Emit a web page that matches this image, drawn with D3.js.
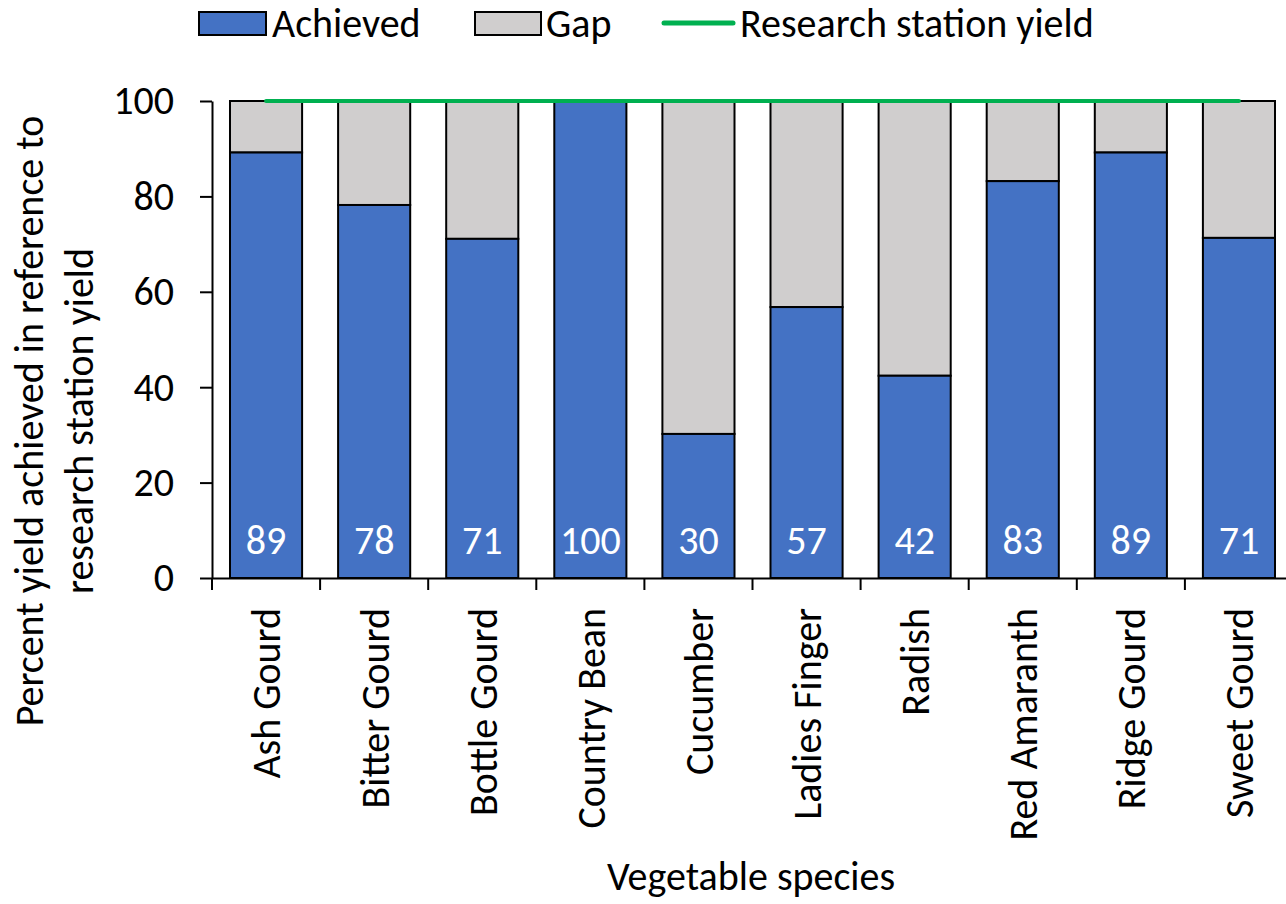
<!DOCTYPE html>
<html>
<head>
<meta charset="utf-8">
<script src="https://cdn.jsdelivr.net/npm/d3@7"></script>
<style>
  body { margin: 0; background: #fff; }
  text { font-family: Carlito, Lato, "Open Sans", sans-serif; fill: #000; }
</style>
</head>
<body>
<div id="chart"></div>
<script>
// Data
const categories = ["Ash Gourd", "Bitter Gourd", "Bottle Gourd", "Country Bean", "Cucumber",
    "Ladies Finger", "Radish", "Red Amaranth", "Ridge Gourd", "Sweet Gourd"];
const achieved = [89.2, 78.2, 71.1, 100, 30.2, 56.8, 42.4, 83.2, 89.2, 71.3];
const researchYield = 100;
const yTicks = [0, 20, 40, 60, 80, 100];

const W = 1286, H = 904;
const margin = { top: 101, left: 212, bottom: 326 };
const plotW = 1081, plotH = H - margin.top - margin.bottom;
const FS = "40px";
const FONT = "Carlito, Lato, 'Open Sans', sans-serif";

const svg = d3.select("#chart").append("svg")
    .attr("width", W).attr("height", H);

const g = svg.append("g")
    .attr("transform", "translate(" + margin.left + "," + margin.top + ")");

const x = d3.scaleBand().domain(categories).range([0, plotW]).paddingInner(0.333).paddingOuter(0.1665);
const y = d3.scaleLinear().domain([0, 100]).range([plotH, 0]);

const blue = "#4472C4", grey = "#D0CECE", green = "#00B050";

// Gap bars (stacked on top)
g.selectAll(".gap").data(categories).enter().append("rect")
    .attr("x", d => x(d))
    .attr("width", x.bandwidth())
    .attr("y", y(researchYield))
    .attr("height", (d, i) => y(achieved[i]) - y(researchYield))
    .attr("fill", grey).attr("stroke", "#000").attr("stroke-width", 2);

// Achieved bars
g.selectAll(".ach").data(categories).enter().append("rect")
    .attr("x", d => x(d))
    .attr("width", x.bandwidth())
    .attr("y", (d, i) => y(achieved[i]))
    .attr("height", (d, i) => y(0) - y(achieved[i]))
    .attr("fill", blue).attr("stroke", "#000").attr("stroke-width", 2);

// Data labels
g.selectAll(".lbl").data(categories).enter().append("text")
    .attr("x", d => x(d) + x.bandwidth() / 2)
    .attr("y", y(0) - 24)
    .attr("text-anchor", "middle")
    .style("font-size", FS)
    .style("fill", "#fff")
    .text((d, i) => Math.round(achieved[i]));

// Research station line
g.append("line")
    .attr("x1", x(categories[0]) + x.bandwidth() / 2)
    .attr("x2", x(categories[categories.length - 1]) + x.bandwidth() / 2)
    .attr("y1", y(researchYield)).attr("y2", y(researchYield))
    .attr("stroke", green).attr("stroke-width", 4).attr("stroke-linecap", "round");

// Y axis
const yAxis = g.append("g").call(d3.axisLeft(y).tickValues(yTicks).tickSize(12).tickSizeOuter(0));
yAxis.select(".domain").attr("stroke", "#000").attr("stroke-width", 2);
yAxis.selectAll(".tick line").attr("stroke", "#000").attr("stroke-width", 2);
yAxis.selectAll(".tick text").attr("x", -38).style("font-size", FS)
    .style("font-family", FONT).attr("fill", "#000");

// X axis
const xAxis = g.append("g").attr("transform", "translate(0," + plotH + ")")
    .call(d3.axisBottom(x).tickSize(0).tickSizeOuter(0));
xAxis.select(".domain").attr("stroke", "#000").attr("stroke-width", 2);
xAxis.selectAll(".tick text")
    .attr("transform", "rotate(-90)")
    .attr("x", -30).attr("y", 0).attr("dy", "0.36em")
    .style("text-anchor", "end")
    .style("font-size", FS)
    .style("font-family", FONT).attr("fill", "#000");

// boundary tick marks between categories
const bounds = d3.range(categories.length).map(i => x.step() * i);
g.selectAll(".btick").data(bounds).enter().append("line")
    .attr("x1", d => d).attr("x2", d => d)
    .attr("y1", plotH).attr("y2", plotH + 12)
    .attr("stroke", "#000").attr("stroke-width", 2);

// Axis titles
svg.append("text")
    .attr("x", 751).attr("y", 890)
    .attr("text-anchor", "middle")
    .style("font-size", FS)
    .text("Vegetable species");

const yt = svg.append("text")
    .attr("transform", "translate(43,421) rotate(-90)")
    .attr("text-anchor", "middle")
    .style("font-size", FS);
yt.append("tspan").attr("x", 0).attr("dy", 0).text("Percent yield achieved in reference to");
yt.append("tspan").attr("x", 0).attr("dy", 50).text("research station yield");

// Legend
const leg = svg.append("g");
leg.append("rect").attr("x", 199).attr("y", 12).attr("width", 67).attr("height", 23)
    .attr("fill", blue).attr("stroke", "#000").attr("stroke-width", 2);
leg.append("text").attr("x", 272).attr("y", 37).style("font-size", FS).text("Achieved");
leg.append("rect").attr("x", 475).attr("y", 12).attr("width", 66).attr("height", 23)
    .attr("fill", grey).attr("stroke", "#000").attr("stroke-width", 2);
leg.append("text").attr("x", 546).attr("y", 37).style("font-size", FS).text("Gap");
leg.append("line").attr("x1", 664).attr("x2", 733).attr("y1", 23).attr("y2", 23)
    .attr("stroke", green).attr("stroke-width", 5).attr("stroke-linecap", "round");
leg.append("text").attr("x", 740).attr("y", 37).style("font-size", FS).text("Research station yield");
</script>
</body>
</html>
